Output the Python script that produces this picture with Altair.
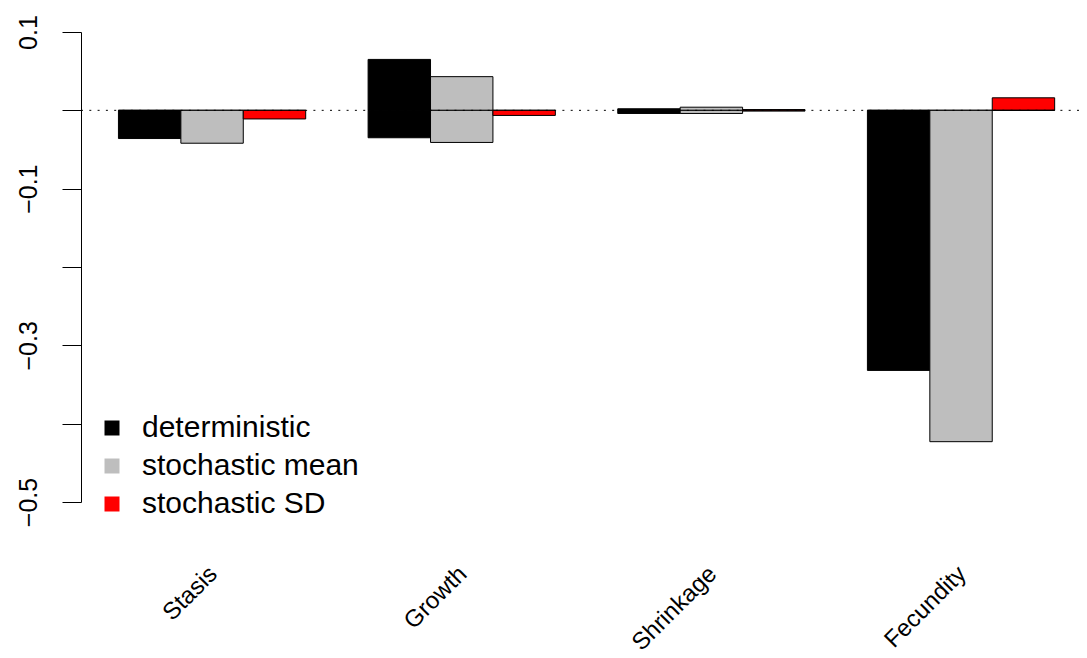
import altair as alt
import pandas as pd

categories = ["Stasis", "Growth", "Shrinkage", "Fecundity"]
series = ["deterministic", "stochastic mean", "stochastic SD"]
colors = ["#000000", "#BEBEBE", "#FF0000"]

# positive and negative contributions per category
det_pos = [0.0, 0.065, 0.002, 0.0]
det_neg = [-0.036, -0.035, -0.004, -0.332]
mean_pos = [0.0, 0.043, 0.004, 0.0]
mean_neg = [-0.042, -0.041, -0.004, -0.423]
sd_pos = [0.0, 0.0, 0.001, 0.016]
sd_neg = [-0.011, -0.0065, -0.001, 0.0]

y_ticks = [-0.5, -0.4, -0.3, -0.2, -0.1, 0.0, 0.1]
y_labelled = [-0.5, -0.3, -0.1, 0.1]

pos = {series[0]: det_pos, series[1]: mean_pos, series[2]: sd_pos}
neg = {series[0]: det_neg, series[1]: mean_neg, series[2]: sd_neg}

rows = []
for gi, cat in enumerate(categories):
    for si, ser in enumerate(series):
        for sign, vals in (("pos", pos[ser]), ("neg", neg[ser])):
            rows.append(dict(category=cat, series=ser, sign=sign, gi=gi, si=si, value=vals[gi]))
df = pd.DataFrame(rows)

centers = [2.5 + 4 * i for i in range(len(categories))]
label_expr = " : ".join(
    f"datum.value == {c} ? '{n}'" for c, n in zip(centers, categories)
) + " : ''"
ylab_expr = " || ".join(f"abs(datum.value - ({v})) < 1e-6" for v in y_labelled)
ylab_expr = f"({ylab_expr}) ? datum.label : ''"

xscale = alt.Scale(domain=[0.4, 16.39], nice=False, zero=False)
yscale = alt.Scale(domain=[-0.5, 0.1], nice=False, zero=False)

bars = alt.Chart(df).transform_calculate(
    x0="1 + 4*datum.gi + datum.si",
    x1="2 + 4*datum.gi + datum.si",
    base="0",
).mark_rect(stroke="black", strokeWidth=1).encode(
    x=alt.X("x0:Q", scale=xscale, title=None,
            axis=alt.Axis(values=centers, labelExpr=label_expr, domain=False, ticks=False,
                          grid=False, labelAngle=315, labelAlign="right", labelBaseline="middle",
                          labelPadding=68, labelOffset=1, labelFontSize=24, labelColor="black",
                          labelLimit=400, labelOverlap=False)),
    x2="x1:Q",
    y=alt.Y("value:Q", scale=yscale, title=None,
            axis=alt.Axis(values=y_ticks, format=".1f", labelExpr=ylab_expr, grid=False,
                          tickSize=19, tickColor="black", tickWidth=1, domainColor="black",
                          domainWidth=1, labelAngle=270, labelAlign="center",
                          labelBaseline="alphabetic", labelPadding=26, labelFontSize=25,
                          labelColor="black", labelLimit=400, labelOverlap=False)),
    y2="base:Q",
    fill=alt.Fill("series:N", scale=alt.Scale(domain=series, range=colors), title=None,
                  legend=alt.Legend(orient="none", legendX=16, legendY=381, symbolType="square",
                                    symbolSize=225, symbolStrokeWidth=0, labelFontSize=30,
                                    labelOffset=15, rowPadding=8, padding=0, labelColor="black",
                                    labelLimit=500, symbolOpacity=1)),
)

zero = pd.DataFrame({"y": [0.0]})
rule = alt.Chart(zero).mark_rule(color="black", strokeWidth=1, strokeDash=[2, 6.3]).encode(
    y=alt.Y("y:Q", scale=yscale)
)

chart = alt.layer(bars, rule).properties(
    width=998, height=470,
    padding={"left": 73, "top": 24, "right": 0, "bottom": 148},
    autosize=alt.AutoSizeParams(type="none"),
).configure(font="Liberation Sans").configure_view(strokeWidth=0)

chart.save("out.html", embed_options={"renderer": "svg", "actions": False})
